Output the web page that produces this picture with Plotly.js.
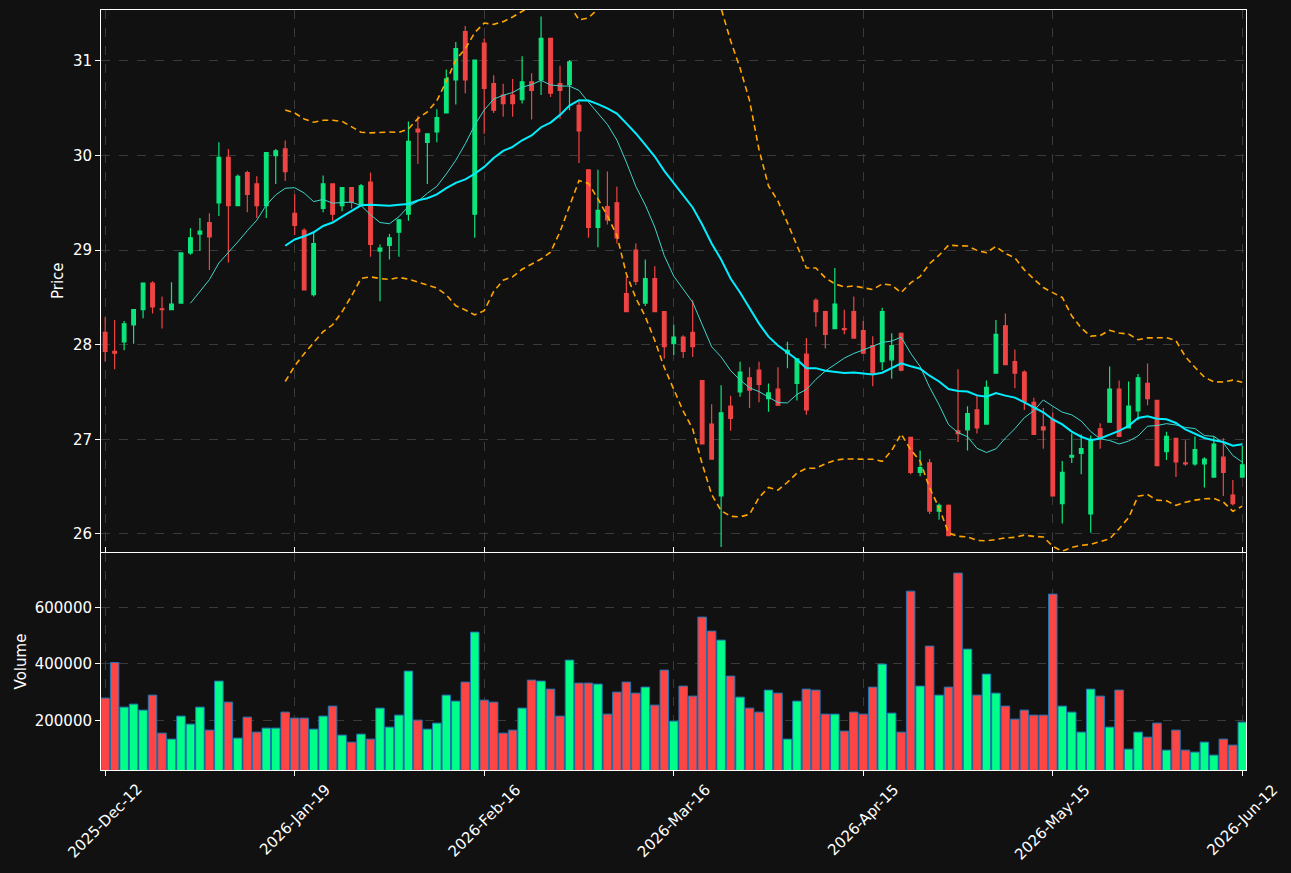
<!DOCTYPE html>
<html>
<head>
<meta charset="utf-8">
<script src="https://cdn.plot.ly/plotly-3.0.1.min.js"></script>
<style>html,body{margin:0;padding:0;background:#111111;}#chart{width:1291px;height:873px;}</style>
</head>
<body>
<div id="chart"></div>
<script>
// Date tick labels (every 20 sessions)
const tickLabels = ["2025-Dec-12","2026-Jan-19","2026-Feb-16","2026-Mar-16","2026-Apr-15","2026-May-15","2026-Jun-12"];
const tickIdx = [0,20,40,60,80,100,120];

const opens = [28.13,27.93,28.03,28.21,28.37,28.65,28.38,28.37,28.44,28.97,
29.17,29.29,29.50,29.98,29.47,29.82,29.70,29.47,30.00,30.07,
29.39,29.21,28.53,29.44,29.70,29.47,29.66,29.47,29.72,28.99,
29.05,29.19,29.38,30.28,30.14,30.25,30.45,30.80,31.31,29.38,
31.19,30.76,30.64,30.64,30.59,30.78,30.80,31.24,30.76,30.75,
30.53,29.85,29.24,29.46,29.50,28.54,29.00,28.44,28.70,28.35,
28.01,28.08,28.13,27.62,27.16,26.40,27.35,27.50,27.65,27.73,
27.43,27.53,27.91,27.59,27.90,28.47,28.35,28.17,28.17,28.35,
28.15,27.99,27.82,27.84,28.12,27.02,26.65,26.75,26.24,26.30,
27.09,27.10,27.31,27.16,27.70,28.20,27.82,27.71,27.39,27.13,
27.21,26.32,26.81,26.85,26.21,27.11,27.18,27.53,27.12,27.30,
27.59,27.41,26.87,27.01,26.75,26.74,26.74,26.60,26.81,26.41,26.60];
const highs = [28.29,28.26,28.25,28.37,28.65,28.67,28.51,28.66,28.97,29.23,
29.34,29.39,30.14,30.07,29.80,29.84,29.78,30.03,30.07,30.16,
29.59,29.23,29.18,29.79,29.70,29.66,29.66,29.70,29.82,29.06,
29.17,29.33,30.36,30.42,30.23,30.49,30.91,31.20,31.37,31.01,
31.24,30.85,30.76,30.81,31.05,30.87,31.47,31.24,30.95,31.01,
30.57,29.85,29.85,29.83,29.67,28.72,29.07,28.90,28.83,28.35,
28.21,28.10,28.47,27.62,27.37,27.57,27.46,27.82,27.76,27.82,
27.59,27.76,28.03,27.85,28.07,28.49,28.36,28.81,28.37,28.51,
28.25,28.09,28.39,28.12,28.13,27.02,26.88,26.79,26.32,26.31,
27.74,27.35,27.46,27.62,28.26,28.33,27.95,27.73,27.44,27.33,
27.28,26.77,27.06,27.05,27.04,27.17,27.77,27.62,27.61,27.69,
27.80,27.41,27.08,27.01,26.99,27.03,26.81,27.03,27.01,26.57,26.93];
const lows = [27.82,27.74,27.94,28.01,28.28,28.33,28.17,28.37,28.44,28.95,
28.99,28.79,29.36,28.87,29.47,29.40,29.34,29.34,29.70,29.73,
29.16,28.58,28.51,29.40,29.31,29.41,29.44,29.47,28.93,28.46,
28.90,28.93,29.31,29.91,29.70,30.14,30.45,30.54,30.66,29.13,
30.23,30.45,30.41,30.41,30.55,30.38,30.64,30.62,30.39,30.48,
29.92,29.13,29.03,29.27,29.07,28.35,28.63,28.41,28.35,27.85,
27.89,27.86,27.87,26.95,26.79,25.86,27.09,27.45,27.33,27.39,
27.29,27.36,27.75,27.41,27.26,28.19,27.96,28.17,28.11,28.07,
27.91,27.56,27.73,27.64,27.72,26.63,26.61,26.21,26.15,25.98,
26.97,26.88,27.06,27.16,27.70,27.79,27.54,27.31,27.05,26.90,
26.40,26.11,26.75,26.63,26.01,26.90,27.18,27.03,27.12,27.20,
27.36,26.72,26.78,26.60,26.72,26.72,26.49,26.60,26.40,26.30,26.60];
const closes = [27.93,27.91,28.22,28.37,28.65,28.40,28.37,28.43,28.97,29.13,
29.20,29.14,29.98,29.47,29.78,29.59,29.47,30.03,30.05,29.83,
29.26,28.58,29.07,29.70,29.38,29.66,29.51,29.68,29.06,29.02,
29.13,29.32,30.15,30.25,30.23,30.40,30.81,31.13,30.80,31.01,
30.71,30.48,30.55,30.55,30.78,30.69,31.24,30.66,30.69,30.99,
30.26,29.24,29.42,29.32,29.13,28.35,28.67,28.70,28.35,27.98,
28.08,27.93,27.98,26.95,26.79,27.28,27.22,27.71,27.52,27.58,
27.49,27.36,27.94,27.85,27.31,28.35,28.11,28.43,28.16,28.07,
27.91,27.70,28.35,27.99,27.73,26.65,26.70,26.24,26.30,25.98,
27.06,27.27,27.12,27.55,28.11,27.79,27.70,27.40,27.05,27.10,
26.40,26.65,26.83,26.90,27.00,27.01,27.53,27.03,27.35,27.65,
27.43,26.72,27.03,26.76,26.74,26.89,26.79,26.95,26.65,26.32,26.73];
const volumes = [278600,404600,246700,257300,236100,289200,154700,133500,214900,186500,
246700,165300,338800,264400,137000,211300,158200,172400,172400,229000,
207800,207800,168800,214900,250300,147600,122800,151200,133500,243200,
175900,218400,374200,200700,168800,190100,289200,268000,335200,512200,
271500,264400,154700,165300,243200,342300,338800,310400,214900,413100,
331700,331700,328100,221900,299800,335200,296300,317500,253800,377700,
197200,321100,285700,565300,515800,483900,356500,282100,243200,229000,
306900,296300,133500,268000,310400,306900,221900,221900,161800,229000,
221900,317500,398900,225500,158200,657300,321100,462700,289200,317500,
721100,452000,289200,363500,296300,250300,204200,236100,218400,218400,
646700,250300,229000,158200,310400,285700,175900,306900,98000,158200,
140500,190100,94500,165300,94500,87400,122800,76800,133500,112200,193600];

const xs = closes.map((_, i) => i);

function sma(arr, p) {
  return arr.map((_, i) => {
    if (i < p - 1) return null;
    let s = 0; for (let k = i - p + 1; k <= i; k++) s += arr[k];
    return s / p;
  });
}
function rstd(arr, p) {
  return arr.map((_, i) => {
    if (i < p - 1) return null;
    let s = 0; for (let k = i - p + 1; k <= i; k++) s += arr[k];
    const m = s / p; let v = 0;
    for (let k = i - p + 1; k <= i; k++) v += (arr[k] - m) * (arr[k] - m);
    return Math.sqrt(v / (p - 1));
  });
}
const ma10 = sma(closes, 10);
const ma20 = sma(closes, 20);
const sd20 = rstd(closes, 20);
const bbUp = ma20.map((m, i) => m === null ? null : m + 2 * sd20[i]);
const bbLo = ma20.map((m, i) => m === null ? null : m - 2 * sd20[i]);

const UP = '#0be57c', DOWN = '#ef4444';
const VUP = '#00ff88', VDOWN = '#ff4444';
const volColors = closes.map((c, i) => c >= opens[i] ? VUP : VDOWN);

const traces = [
  {type: 'candlestick', x: xs, open: opens, high: highs, low: lows, close: closes,
   xaxis: 'x', yaxis: 'y', whiskerwidth: 0,
   increasing: {line: {color: UP, width: 1.2}, fillcolor: UP},
   decreasing: {line: {color: DOWN, width: 1.2}, fillcolor: DOWN},
   hoverinfo: 'skip', showlegend: false},
  {type: 'scatter', mode: 'lines', x: xs, y: ma10, xaxis: 'x', yaxis: 'y',
   line: {color: '#3fd6cc', width: 1}, hoverinfo: 'skip', showlegend: false},
  {type: 'scatter', mode: 'lines', x: xs, y: ma20, xaxis: 'x', yaxis: 'y',
   line: {color: '#00eeff', width: 2}, hoverinfo: 'skip', showlegend: false},
  {type: 'scatter', mode: 'lines', x: xs, y: bbUp, xaxis: 'x', yaxis: 'y',
   line: {color: '#ffa500', width: 1.6, dash: '6px,4px'}, hoverinfo: 'skip', showlegend: false},
  {type: 'scatter', mode: 'lines', x: xs, y: bbLo, xaxis: 'x', yaxis: 'y',
   line: {color: '#ffa500', width: 1.6, dash: '6px,4px'}, hoverinfo: 'skip', showlegend: false},
  {type: 'bar', x: xs, y: volumes, xaxis: 'x', yaxis: 'y2', width: 0.9,
   marker: {color: volColors, line: {color: '#1f77b4', width: 1}},
   hoverinfo: 'skip', showlegend: false}
];

// rotated date labels centred under their ticks
const xAnnots = tickIdx.map((t, k) => ({
  x: t, xref: 'x', y: 0, yref: 'paper', yshift: -8,
  text: tickLabels[k], textangle: -45, showarrow: false,
  xanchor: 'center', yanchor: 'top',
  font: {family: 'DejaVu Sans', size: 15, color: '#ffffff'}
}));

const gridCol = '#3a3a3a';
const tickFont = {family: 'DejaVu Sans', size: 15, color: '#ffffff'};
const layout = {
  width: 1291, height: 873,
  paper_bgcolor: '#111111', plot_bgcolor: '#111111',
  font: {family: 'DejaVu Sans', color: '#ffffff', size: 15},
  margin: {l: 101, r: 45, t: 10, b: 103},
  showlegend: false,
  boxgap: 0.45,
  annotations: xAnnots,
  xaxis: {
    domain: [0, 1], anchor: 'y2', range: [-0.44, 120.39],
    tickvals: tickIdx, showticklabels: false,
    ticks: 'outside', ticklen: 5, tickcolor: '#ffffff',
    showgrid: true, gridcolor: gridCol, griddash: 'dash', gridwidth: 1,
    showline: true, linecolor: '#ffffff', linewidth: 1, mirror: 'all',
    zeroline: false, rangeslider: {visible: false}
  },
  yaxis: {
    domain: [0.2875, 1], anchor: 'x', range: [25.813, 31.539],
    tickvals: [26, 27, 28, 29, 30, 31], ticktext: ['26', '27', '28', '29', '30', '31'],
    tickfont: tickFont,
    ticks: 'outside', ticklen: 5, tickcolor: '#ffffff',
    showgrid: true, gridcolor: gridCol, griddash: 'dash', gridwidth: 1,
    showline: true, linecolor: '#ffffff', linewidth: 1, mirror: true,
    zeroline: false,
    title: {text: 'Price', font: {size: 15, color: '#ffffff'}, standoff: 5}
  },
  yaxis2: {
    domain: [0, 0.2855], anchor: 'x', range: [24100, 792200],
    tickvals: [200000, 400000, 600000], ticktext: ['200000', '400000', '600000'],
    tickfont: tickFont,
    ticks: 'outside', ticklen: 5, tickcolor: '#ffffff',
    showgrid: true, gridcolor: gridCol, griddash: 'dash', gridwidth: 1,
    showline: true, linecolor: '#ffffff', linewidth: 1, mirror: true,
    zeroline: false,
    title: {text: 'Volume', font: {size: 15, color: '#ffffff'}, standoff: 4}
  }
};

Plotly.newPlot('chart', traces, layout, {staticPlot: true, displayModeBar: false});
</script>
</body>
</html>
